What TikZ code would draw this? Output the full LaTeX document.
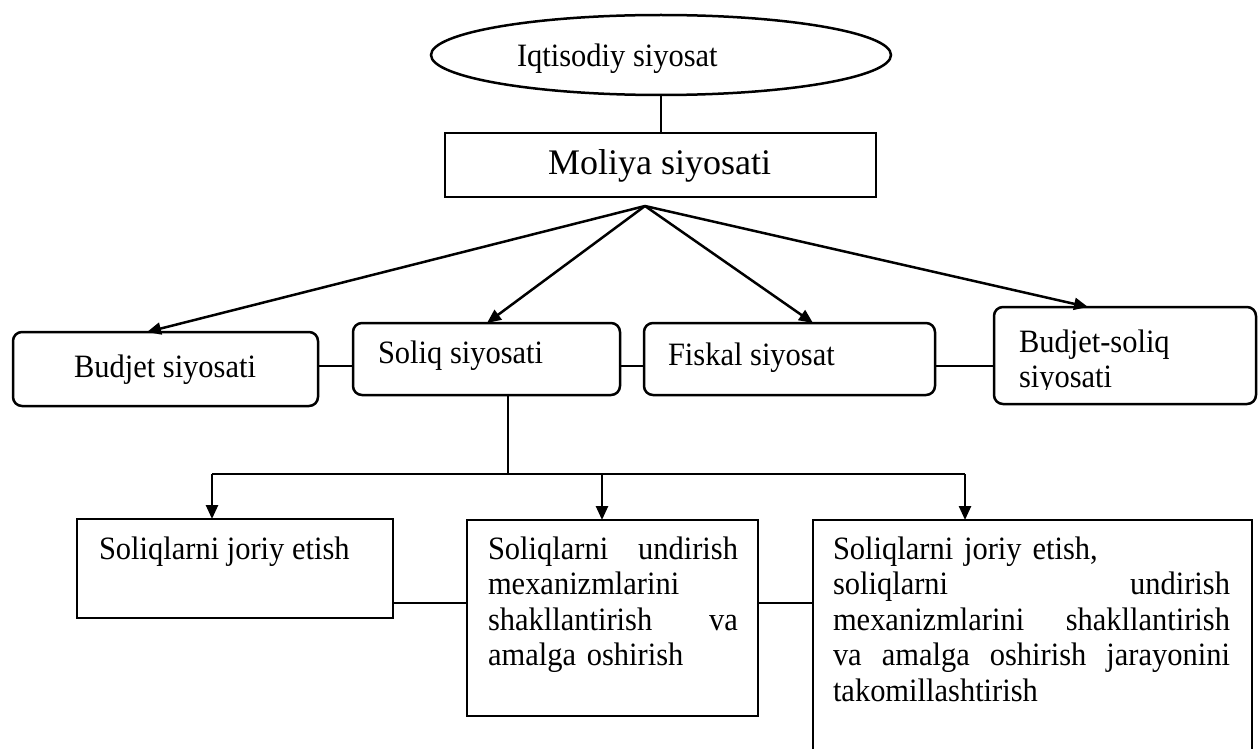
\documentclass[tikz,border=0pt]{standalone}
\usepackage{fontspec}
\setmainfont{Liberation Serif}
\newfontfamily\tallfont{Liberation Serif}[FakeStretch=0.935]
\usetikzlibrary{arrows.meta,shapes.geometric}
\newcommand\fullline[2]{\leavevmode\hbox to #1{#2}}
\begin{document}
\begin{tikzpicture}[x=1pt,y=-1pt,
  every node/.style={inner sep=0pt, outer sep=0pt},
  sbox/.style={draw, line width=2.5pt, anchor=north west},
  rbox/.style={sbox, rounded corners=9pt},
  lbl/.style={anchor=base west, font=\tallfont\fontsize{32.6}{35.5}\selectfont},
  para/.style={lbl, align=left},
  link/.style={line width=2.5pt},
  arr/.style={link, -{Triangle[length=14pt,width=12pt]}}]
\useasboundingbox (0,0) rectangle (1259,749);

% top
\node[ellipse, draw, line width=2.5pt, minimum width=460pt, minimum height=80pt] (econ) at (661,55) {};
\node[lbl] (econT) at (517,67) {Iqtisodiy siyosat};
\node[sbox, minimum width=431pt, minimum height=64pt] (fin) at (445,133) {};
\node[lbl, font=\fontsize{36}{40}\selectfont] (finT) at (548,175) {Moliya siyosati};
\draw[link] (econ.south) -- (econ.south |- fin.north);
\coordinate (hub) at (645,206);

% first row
\node[rbox, minimum width=305pt, minimum height=74pt] (budjet) at (13,332) {};
\node[lbl] (budjetT) at (74,377) {Budjet siyosati};
\node[rbox, minimum width=267pt, minimum height=72pt] (soliq) at (353,323) {};
\node[lbl] (soliqT) at (378,363) {Soliq siyosati};
\node[rbox, minimum width=291pt, minimum height=72pt] (fiskal) at (644,323) {};
\node[lbl] (fiskalT) at (668,365) {Fiskal siyosat};
\node[rbox, minimum width=262pt, minimum height=97pt] (bsol) at (994,307) {};
\begin{scope}
  \clip (994,307) rectangle (1257,389);
  \node[para, text width=230pt] (bsolT) at (1019,352) {Budjet-soliq\\siyosati};
\end{scope}

\coordinate (rowA) at (0,366);
\draw[link] (budjet.east |- rowA) -- (soliq.west |- rowA);
\draw[link] (soliq.east |- rowA) -- (fiskal.west |- rowA);
\draw[link] (fiskal.east |- rowA) -- (bsol.west |- rowA);

\draw[arr] (hub) -- (budjet.north -| 147,0);
\draw[arr] (hub) -- (soliq.north -| 487,0);
\draw[arr] (hub) -- (fiskal.north -| 813,0);
\draw[arr] (hub) -- (bsol.north -| 1088,0);

% second row
\node[sbox, minimum width=316pt, minimum height=99pt] (joriy) at (77,519) {};
\node[lbl] (joriyT) at (99,559) {Soliqlarni joriy etish};
\node[sbox, minimum width=291pt, minimum height=196pt] (undir) at (467,520) {};
\node[para, text width=250pt] (undirT) at (488,559) {\fullline{250pt}{Soliqlarni\hfill undirish}\\mexanizmlarini\\\fullline{250pt}{shakllantirish\hfill va}\\amalga oshirish};
\node[anchor=north west, minimum width=439pt, minimum height=235pt] (takom) at (813,520) {};
\draw[link] (takom.south west) -- (takom.north west) -- (takom.north east) -- (takom.south east);
\node[para, text width=397pt] (takomT) at (833,559) {Soliqlarni joriy etish,\\\fullline{397pt}{soliqlarni\hfill undirish}\\\fullline{397pt}{mexanizmlarini\hfill shakllantirish}\\\fullline{397pt}{va\hfill amalga\hfill oshirish\hfill jarayonini}\\takomillashtirish};

\coordinate (rowB) at (0,603);
\draw[link] (joriy.east |- rowB) -- (undir.west |- rowB);
\draw[link] (undir.east |- rowB) -- (takom.west |- rowB);

% tree below Soliq siyosati
\coordinate (split) at (508,474);
\draw[link] (soliq.south -| split) -- (split);
\draw[link] (split -| 212,0) -- (split -| 965,0);
\draw[arr] (split -| 212,0) -- (joriy.north -| 212,0);
\draw[arr] (split -| 602,0) -- (undir.north -| 602,0);
\draw[arr] (split -| 965,0) -- (takom.north -| 965,0);
\end{tikzpicture}
\end{document}
